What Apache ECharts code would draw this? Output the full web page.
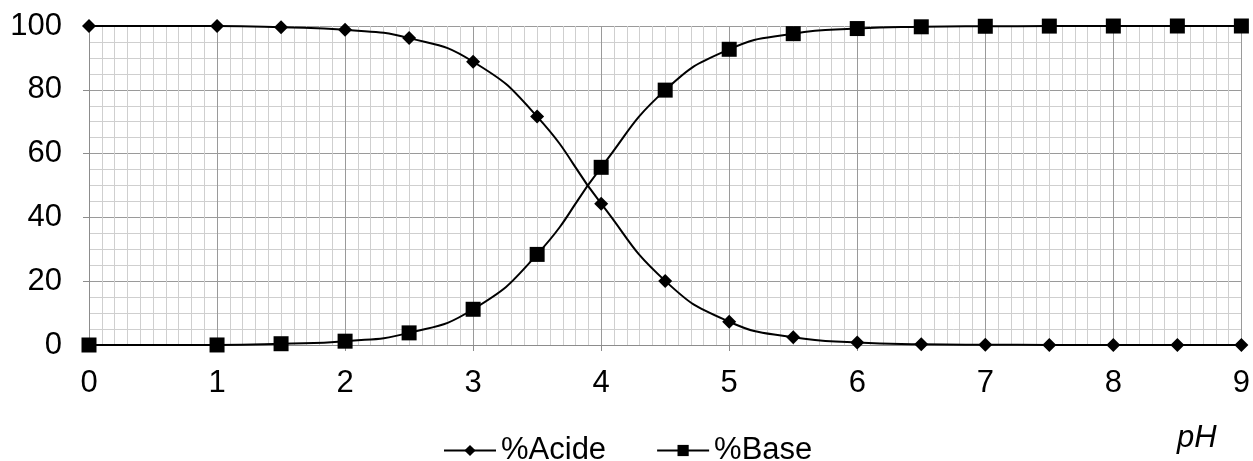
<!DOCTYPE html>
<html>
<head>
<meta charset="utf-8">
<script src="https://cdn.jsdelivr.net/npm/echarts@6/dist/echarts.min.js"></script>
<style>
html,body{margin:0;padding:0;background:#fff;}
#chart{width:1253px;height:461px;}
</style>
</head>
<body>
<div id="chart"></div>
<script>
const pH = [0, 1, 1.5, 2, 2.5, 3, 3.5, 4, 4.5, 5, 5.5, 6, 6.5, 7, 7.5, 8, 8.5, 9];
const acide = [100, 99.99, 99.6, 98.8, 96.2, 88.8, 71.6, 44.3, 20.1, 7.3, 2.4, 0.8, 0.25, 0.08, 0.03, 0.01, 0, 0];
const base = [0, 0.01, 0.4, 1.2, 3.8, 11.2, 28.4, 55.7, 79.9, 92.7, 97.6, 99.2, 99.75, 99.92, 99.97, 99.99, 100, 100];
const seriesNames = ['%Acide', '%Base'];
const xTitle = 'pH';

const font = 'Liberation Sans, Arial, sans-serif';
const chart = echarts.init(document.getElementById('chart'));
chart.setOption({
  animation: false,
  backgroundColor: '#fff',
  grid: { left: 89, right: 8, top: 26, bottom: 116, containLabel: false },
  legend: {
    data: seriesNames,
    left: 438, top: 430,
    itemWidth: 52, itemHeight: 14, itemGap: 50,
    textStyle: { fontFamily: font, fontSize: 31, color: '#000' },
  },
  graphic: [{
    type: 'text', left: 1177, top: 423,
    style: { text: xTitle, font: 'italic 31px ' + font, fill: '#000' }
  }],
  xAxis: {
    type: 'value', min: 0, max: 9, interval: 1,
    axisLine: { show: true, lineStyle: { color: '#8c8c8c', width: 1 } },
    axisTick: { show: true, length: 6, lineStyle: { color: '#8c8c8c' } },
    axisLabel: { fontFamily: font, fontSize: 31, color: '#000', margin: 23 },
    splitLine: { show: true, lineStyle: { color: '#9a9a9a', width: 1 } },
    minorTick: { show: false, splitNumber: 10 },
    minorSplitLine: { show: true, lineStyle: { color: '#cfcfcf', width: 1 } }
  },
  yAxis: {
    type: 'value', min: 0, max: 100, interval: 20,
    axisLine: { show: true, lineStyle: { color: '#8c8c8c', width: 1 } },
    axisTick: { show: true, length: 6, lineStyle: { color: '#8c8c8c' } },
    axisLabel: { fontFamily: font, fontSize: 31, color: '#000', margin: 27 },
    splitLine: { show: true, lineStyle: { color: '#9a9a9a', width: 1 } },
    minorTick: { show: false, splitNumber: 4 },
    minorSplitLine: { show: true, lineStyle: { color: '#cfcfcf', width: 1 } }
  },
  series: [
    {
      name: seriesNames[0], type: 'line', smooth: true,
      data: pH.map((x, i) => [x, acide[i]]),
      symbol: 'diamond', symbolSize: 14,
      lineStyle: { color: '#000', width: 2 },
      itemStyle: { color: '#000' }
    },
    {
      name: seriesNames[1], type: 'line', smooth: true,
      data: pH.map((x, i) => [x, base[i]]),
      symbol: 'rect', symbolSize: 15,
      lineStyle: { color: '#000', width: 2 },
      itemStyle: { color: '#000' }
    }
  ]
});
</script>
</body>
</html>
